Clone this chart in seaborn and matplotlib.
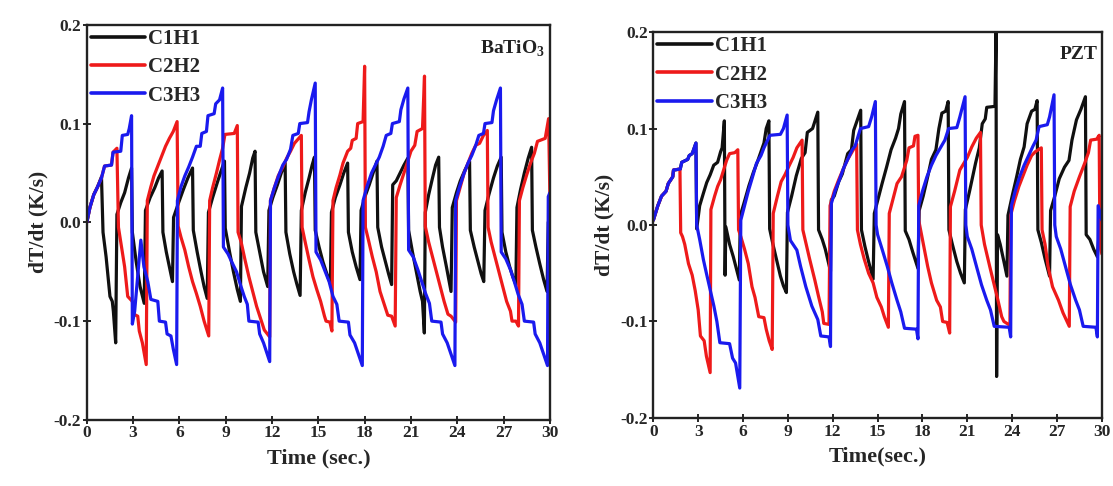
import matplotlib
matplotlib.use("Agg")
import matplotlib.pyplot as plt
import pandas as pd
import seaborn as sns

# ---------------- data ----------------
SERIES = ["C1H1", "C2H2", "C3H3"]
COLORS = {"C1H1": "#101010", "C2H2": "#ee1a1a", "C3H3": "#1a1aee"}
X_TICKS = [0, 3, 6, 9, 12, 15, 18, 21, 24, 27, 30]
Y_TICKS = [-0.2, -0.1, 0.0, 0.1, 0.2]
Y_TICK_LABELS = ["-0.2", "-0.1", "0.0", "0.1", "0.2"]
PANEL_LABELS = ["BaTiO$_{\\mathbf{3}}$", "PZT"]
X_LABELS = ["Time (sec.)", "Time(sec.)"]
Y_LABEL = "dT/dt (K/s)"

# ---- left panel (BaTiO3): (time s, dT/dt K/s)
L_C1H1 = [(0, 0), (0.2, 0.015), (0.45, 0.028), (0.7, 0.036), (0.95, 0.046),
          (1.05, -0.01), (1.25, -0.035), (1.5, -0.075), (1.65, -0.08), (1.72, -0.09), (1.87, -0.122),
          (1.95, 0.008), (2.2, 0.02), (2.45, 0.03), (2.7, 0.045), (2.9, 0.055),
          (2.95, -0.01), (3.2, -0.04), (3.45, -0.065), (3.72, -0.082),
          (3.8, 0.012), (4.1, 0.025), (4.4, 0.035), (4.65, 0.045), (4.88, 0.052),
          (4.93, -0.01), (5.15, -0.03), (5.35, -0.045), (5.55, -0.06),
          (5.62, 0.005), (5.95, 0.02), (6.25, 0.033), (6.55, 0.045), (6.85, 0.055),
          (6.9, -0.008), (7.15, -0.03), (7.4, -0.05), (7.6, -0.065), (7.8, -0.077),
          (7.88, 0.01), (8.15, 0.025), (8.45, 0.04), (8.7, 0.052), (8.92, 0.062),
          (8.97, -0.006), (9.25, -0.03), (9.5, -0.05), (9.75, -0.068), (9.95, -0.08),
          (10.02, 0.016), (10.3, 0.035), (10.55, 0.05), (10.75, 0.065), (10.9, 0.072),
          (10.95, -0.01), (11.2, -0.03), (11.45, -0.05), (11.72, -0.065),
          (11.8, 0.012), (12.05, 0.025), (12.35, 0.038), (12.6, 0.05), (12.85, 0.06),
          (12.9, -0.01), (13.15, -0.032), (13.4, -0.05), (13.6, -0.062), (13.82, -0.074),
          (13.9, 0.012), (14.15, 0.03), (14.4, 0.045), (14.6, 0.058), (14.75, 0.066),
          (14.8, -0.008), (15.05, -0.025), (15.3, -0.04), (15.55, -0.052), (15.78, -0.062),
          (15.85, 0.01), (16.1, 0.025), (16.4, 0.038), (16.65, 0.05), (16.9, 0.06),
          (16.95, -0.01), (17.2, -0.03), (17.45, -0.045), (17.7, -0.058),
          (17.77, 0.012), (18.0, 0.025), (18.3, 0.038), (18.55, 0.05), (18.8, 0.062),
          (18.85, -0.005), (19.1, -0.025), (19.35, -0.04), (19.55, -0.052), (19.75, -0.063),
          (19.82, 0.038), (20.05, 0.042), (20.3, 0.05), (20.55, 0.058), (20.8, 0.065),
          (20.85, -0.008), (21.1, -0.03), (21.35, -0.05), (21.6, -0.07), (21.75, -0.08), (21.87, -0.112),
          (21.93, 0.01), (22.15, 0.028), (22.4, 0.045), (22.6, 0.058), (22.8, 0.066),
          (22.85, -0.005), (23.05, -0.025), (23.3, -0.045), (23.6, -0.07),
          (23.68, 0.015), (23.95, 0.03), (24.2, 0.042), (24.5, 0.053), (24.8, 0.062),
          (24.85, -0.008), (25.1, -0.025), (25.35, -0.04), (25.55, -0.052), (25.72, -0.06),
          (25.8, 0.012), (26.05, 0.028), (26.35, 0.045), (26.6, 0.057), (26.85, 0.066),
          (26.9, -0.01), (27.15, -0.03), (27.4, -0.045), (27.6, -0.055), (27.8, -0.063),
          (27.87, 0.015), (28.1, 0.033), (28.35, 0.05), (28.6, 0.065), (28.82, 0.076),
          (28.87, -0.008), (29.1, -0.025), (29.35, -0.042), (29.6, -0.058), (29.82, -0.07),
          (29.9, 0.0), (30.0, 0.005)]

L_C2H2 = [(0, 0), (0.2, 0.015), (0.45, 0.028), (0.7, 0.036), (0.95, 0.045), (1.15, 0.057),
          (1.6, 0.058), (1.7, 0.071), (1.95, 0.075),
          (2.05, -0.005), (2.2, -0.02), (2.45, -0.045), (2.65, -0.075), (2.95, -0.08), (3.05, -0.093),
          (3.3, -0.095), (3.4, -0.11), (3.6, -0.122), (3.85, -0.144),
          (3.92, 0.022), (4.15, 0.036), (4.35, 0.047), (4.6, 0.057), (4.85, 0.067), (5.1, 0.077),
          (5.35, 0.085), (5.6, 0.092), (5.85, 0.102),
          (5.92, -0.004), (6.1, -0.015), (6.35, -0.028), (6.6, -0.045), (6.85, -0.06), (7.1, -0.072),
          (7.35, -0.085), (7.6, -0.1), (7.9, -0.115),
          (7.96, 0.022), (8.15, 0.035), (8.4, 0.05), (8.6, 0.063), (8.8, 0.075), (8.95, 0.089),
          (9.55, 0.09), (9.75, 0.098),
          (9.8, -0.01), (10.0, -0.02), (10.25, -0.038), (10.5, -0.055), (10.75, -0.07), (11.0, -0.085),
          (11.25, -0.097), (11.5, -0.109), (11.85, -0.116),
          (11.9, 0.022), (12.15, 0.035), (12.4, 0.047), (12.7, 0.056), (12.95, 0.065), (13.2, 0.072),
          (13.45, 0.08), (13.9, 0.088),
          (13.95, -0.005), (14.15, -0.02), (14.4, -0.038), (14.65, -0.055), (14.9, -0.068),
          (15.15, -0.08), (15.4, -0.095), (15.5, -0.1), (15.75, -0.101), (15.88, -0.11),
          (15.95, 0.022), (16.15, 0.035), (16.4, 0.048), (16.6, 0.06), (16.9, 0.072), (17.1, 0.075),
          (17.2, 0.083), (17.45, 0.085), (17.55, 0.1), (17.9, 0.102), (18.0, 0.158),
          (18.05, -0.005), (18.25, -0.018), (18.5, -0.035), (18.75, -0.05), (19.0, -0.07),
          (19.25, -0.082), (19.5, -0.094), (19.75, -0.095), (19.98, -0.105),
          (20.05, 0.025), (20.3, 0.038), (20.55, 0.05), (20.8, 0.062), (21.0, 0.072), (21.25, 0.078),
          (21.4, 0.092), (21.75, 0.095), (21.88, 0.148),
          (21.93, -0.004), (22.15, -0.02), (22.4, -0.035), (22.65, -0.05), (22.9, -0.065),
          (23.15, -0.08), (23.4, -0.093), (23.6, -0.095), (23.9, -0.101),
          (23.95, 0.022), (24.2, 0.036), (24.45, 0.05), (24.7, 0.06), (24.95, 0.07), (25.2, 0.078),
          (25.45, 0.08), (25.7, 0.088), (25.95, 0.093),
          (26.0, -0.005), (26.2, -0.02), (26.45, -0.035), (26.7, -0.05), (26.95, -0.065),
          (27.2, -0.08), (27.45, -0.09), (27.55, -0.1), (27.8, -0.1), (27.97, -0.105),
          (28.03, 0.022), (28.25, 0.035), (28.5, 0.048), (28.75, 0.06), (29.0, 0.07), (29.2, 0.082),
          (29.7, 0.085), (29.92, 0.105), (30.0, 0.03)]

L_C3H3 = [(0, 0), (0.2, 0.015), (0.45, 0.028), (0.7, 0.036), (0.95, 0.045), (1.15, 0.057),
          (1.6, 0.058), (1.7, 0.071), (2.2, 0.072), (2.3, 0.088), (2.65, 0.089), (2.75, 0.095), (2.9, 0.108),
          (2.95, -0.103), (3.1, -0.09), (3.5, -0.018), (3.7, -0.045), (3.95, -0.06), (4.15, -0.078),
          (4.6, -0.08), (4.7, -0.1), (5.1, -0.101), (5.2, -0.113), (5.45, -0.115), (5.6, -0.128), (5.82, -0.144),
          (5.87, 0.022), (6.1, 0.036), (6.35, 0.047), (6.6, 0.056), (6.85, 0.066), (7.1, 0.077),
          (7.35, 0.077), (7.45, 0.09), (7.75, 0.092), (7.85, 0.108), (8.25, 0.11), (8.35, 0.12),
          (8.6, 0.124), (8.8, 0.136),
          (8.85, -0.025), (9.15, -0.032), (9.45, -0.042), (9.7, -0.05), (9.95, -0.063), (10.2, -0.075),
          (10.4, -0.083), (10.5, -0.1), (11.1, -0.101), (11.2, -0.113), (11.45, -0.122), (11.85, -0.141),
          (11.9, 0.022), (12.15, 0.035), (12.45, 0.048), (12.7, 0.058), (12.95, 0.064), (13.2, 0.074),
          (13.35, 0.088), (13.7, 0.09), (13.8, 0.1), (14.3, 0.101), (14.4, 0.112), (14.55, 0.124), (14.8, 0.141),
          (14.85, -0.03), (15.15, -0.038), (15.45, -0.05), (15.7, -0.06), (15.95, -0.075), (16.2, -0.083),
          (16.35, -0.1), (16.95, -0.101), (17.05, -0.114), (17.35, -0.122), (17.85, -0.145),
          (17.9, 0.022), (18.15, 0.036), (18.45, 0.05), (18.7, 0.058), (18.95, 0.066), (19.2, 0.077),
          (19.4, 0.088), (19.7, 0.09), (19.8, 0.1), (20.25, 0.102), (20.35, 0.114), (20.55, 0.125), (20.8, 0.136),
          (20.85, -0.028), (21.15, -0.035), (21.45, -0.048), (21.7, -0.06), (21.95, -0.072), (22.2, -0.082),
          (22.35, -0.1), (22.95, -0.101), (23.05, -0.113), (23.35, -0.122), (23.85, -0.145),
          (23.9, 0.022), (24.15, 0.036), (24.45, 0.05), (24.7, 0.06), (24.95, 0.068), (25.2, 0.078),
          (25.4, 0.088), (25.7, 0.09), (25.8, 0.1), (26.25, 0.101), (26.35, 0.113), (26.55, 0.124), (26.8, 0.136),
          (26.85, -0.03), (27.15, -0.037), (27.45, -0.048), (27.7, -0.06), (27.95, -0.073), (28.2, -0.083),
          (28.35, -0.1), (28.95, -0.101), (29.05, -0.113), (29.35, -0.122), (29.85, -0.145),
          (29.9, 0.026), (30.0, 0.03)]

# ---- right panel (PZT)
R_C1H1 = [(0, 0.005), (0.3, 0.02), (0.55, 0.03), (0.85, 0.035), (1.0, 0.043), (1.3, 0.05), (1.35, 0.057),
          (1.8, 0.058), (1.9, 0.065), (2.3, 0.068), (2.4, 0.072), (2.6, 0.074), (2.85, 0.085),
          (2.9, -0.004), (3.1, 0.02), (3.35, 0.033), (3.57, 0.044), (3.8, 0.052), (4.04, 0.062),
          (4.3, 0.065), (4.5, 0.076), (4.6, 0.08), (4.75, 0.108),
          (4.8, -0.052), (4.85, -0.002), (5.1, -0.02), (5.35, -0.033), (5.55, -0.045), (5.75, -0.057),
          (5.82, 0.01), (6.05, 0.022), (6.4, 0.041), (6.7, 0.055), (6.95, 0.065), (7.2, 0.076),
          (7.4, 0.085), (7.55, 0.1), (7.73, 0.108),
          (7.78, -0.004), (8.0, -0.02), (8.3, -0.04), (8.5, -0.053), (8.7, -0.063), (8.9, -0.07),
          (8.97, 0.013), (9.25, 0.03), (9.56, 0.051), (9.9, 0.069), (10.15, 0.075), (10.3, 0.096),
          (10.65, 0.1), (11.0, 0.117),
          (11.05, -0.005), (11.3, -0.015), (11.5, -0.025), (11.7, -0.038), (11.85, -0.048),
          (11.9, 0.026), (12.1, 0.03), (12.4, 0.045), (12.64, 0.053), (13.0, 0.074), (13.25, 0.078),
          (13.4, 0.098), (13.65, 0.109), (13.87, 0.119),
          (13.92, -0.005), (14.15, -0.022), (14.4, -0.038), (14.7, -0.056),
          (14.78, 0.012), (15.0, 0.025), (15.3, 0.043), (15.6, 0.06), (15.9, 0.078), (16.2, 0.09),
          (16.4, 0.1), (16.55, 0.115), (16.8, 0.128),
          (16.85, -0.006), (17.1, -0.015), (17.35, -0.028), (17.7, -0.045),
          (17.78, 0.015), (18.05, 0.03), (18.35, 0.05), (18.6, 0.068), (18.9, 0.078), (19.1, 0.1),
          (19.3, 0.116), (19.55, 0.118), (19.72, 0.128),
          (19.77, -0.005), (20.0, -0.02), (20.3, -0.038), (20.55, -0.05), (20.8, -0.06),
          (20.87, 0.016), (21.15, 0.035), (21.55, 0.064), (21.8, 0.08), (22.0, 0.105), (22.2, 0.11),
          (22.3, 0.122), (22.85, 0.123),
          (22.92, 0.2), (22.96, -0.157), (23.02, -0.01), (23.2, -0.02), (23.45, -0.038), (23.65, -0.053),
          (23.72, 0.01), (24.0, 0.03), (24.3, 0.05), (24.55, 0.068), (24.8, 0.081), (25.0, 0.105),
          (25.3, 0.118), (25.52, 0.12), (25.67, 0.129),
          (25.72, -0.005), (25.95, -0.018), (26.2, -0.035), (26.5, -0.053),
          (26.57, 0.015), (26.85, 0.03), (27.15, 0.048), (27.5, 0.06), (27.8, 0.067), (28.0, 0.088),
          (28.3, 0.109), (28.6, 0.12), (28.9, 0.133),
          (28.95, -0.01), (29.2, -0.015), (29.45, -0.025), (29.7, -0.033), (29.85, 0.0), (30.0, 0.01)]

R_C2H2 = [(0, 0.005), (0.3, 0.02), (0.55, 0.03), (0.85, 0.035), (1.0, 0.043), (1.3, 0.05), (1.35, 0.057),
          (1.78, 0.058),
          (1.83, -0.008), (1.95, -0.012), (2.1, -0.02), (2.35, -0.04), (2.6, -0.052), (2.8, -0.068),
          (3.0, -0.088), (3.15, -0.115), (3.4, -0.12), (3.55, -0.136), (3.8, -0.153),
          (3.85, 0.016), (4.1, 0.03), (4.3, 0.04), (4.5, 0.047), (4.7, 0.057), (4.9, 0.067), (5.1, 0.074),
          (5.45, 0.075), (5.65, 0.078),
          (5.7, -0.005), (5.85, -0.012), (6.1, -0.025), (6.35, -0.04), (6.6, -0.064), (6.8, -0.075),
          (7.05, -0.095), (7.4, -0.096), (7.55, -0.108), (7.75, -0.12), (7.95, -0.129),
          (8.02, 0.012), (8.3, 0.03), (8.55, 0.045), (8.8, 0.052), (9.1, 0.062), (9.35, 0.07),
          (9.6, 0.08), (9.95, 0.088),
          (10.0, -0.005), (10.15, -0.015), (10.45, -0.035), (10.8, -0.057), (11.05, -0.074),
          (11.3, -0.09), (11.4, -0.102), (11.75, -0.103),
          (11.82, 0.02), (12.1, 0.035), (12.4, 0.047), (12.7, 0.058), (13.0, 0.068), (13.3, 0.076),
          (13.6, 0.084),
          (13.65, -0.005), (13.85, -0.02), (14.1, -0.035), (14.4, -0.05), (14.7, -0.06), (14.95, -0.075),
          (15.25, -0.085), (15.45, -0.095), (15.72, -0.106),
          (15.78, 0.012), (16.0, 0.025), (16.3, 0.043), (16.6, 0.05), (16.95, 0.067), (17.1, 0.08),
          (17.4, 0.082), (17.5, 0.092), (17.7, 0.093),
          (17.75, 0.005), (18.0, -0.015), (18.35, -0.043), (18.6, -0.06), (18.95, -0.078), (19.2, -0.085),
          (19.35, -0.1), (19.65, -0.101), (19.82, -0.112),
          (19.87, 0.019), (20.15, 0.035), (20.5, 0.057), (21.0, 0.07), (21.3, 0.081), (21.6, 0.09),
          (21.88, 0.096),
          (21.93, 0.0), (22.15, -0.02), (22.5, -0.043), (22.8, -0.062), (23.05, -0.078), (23.3, -0.095),
          (23.45, -0.1), (23.85, -0.104),
          (23.9, 0.01), (24.15, 0.025), (24.45, 0.04), (24.75, 0.052), (25.0, 0.062), (25.3, 0.072),
          (25.55, 0.076), (25.95, 0.08),
          (26.0, -0.005), (26.2, -0.02), (26.4, -0.043), (26.7, -0.064), (27.1, -0.078), (27.4, -0.091),
          (27.82, -0.105),
          (27.88, 0.019), (28.15, 0.035), (28.5, 0.05), (28.85, 0.064), (29.1, 0.075), (29.25, 0.088),
          (29.65, 0.089), (29.82, 0.093),
          (29.87, -0.02), (30.0, -0.03)]

R_C3H3 = [(0, 0.005), (0.3, 0.02), (0.55, 0.03), (0.85, 0.035), (1.0, 0.043), (1.3, 0.05), (1.35, 0.057),
          (1.8, 0.058), (1.9, 0.065), (2.3, 0.068), (2.4, 0.072), (2.6, 0.074), (2.85, 0.085),
          (2.9, 0.0), (3.1, -0.015), (3.35, -0.036), (3.55, -0.05), (3.8, -0.067), (4.05, -0.084),
          (4.25, -0.1), (4.45, -0.122), (5.1, -0.123), (5.3, -0.138), (5.5, -0.143), (5.78, -0.169),
          (5.85, 0.005), (6.1, 0.02), (6.35, 0.035), (6.6, 0.048), (6.9, 0.064), (7.2, 0.072), (7.4, 0.08),
          (7.8, 0.093), (8.5, 0.094), (8.7, 0.1), (8.95, 0.114),
          (9.0, 0.0), (9.17, -0.016), (9.6, -0.026), (9.85, -0.043), (10.2, -0.064), (10.6, -0.084),
          (11.0, -0.098), (11.2, -0.115), (11.75, -0.116), (11.85, -0.126),
          (11.9, 0.022), (12.15, 0.035), (12.45, 0.047), (12.7, 0.058), (13.0, 0.068), (13.3, 0.078),
          (13.5, 0.082), (13.85, 0.1), (14.4, 0.102), (14.6, 0.112), (14.85, 0.128),
          (14.9, 0.0), (15.0, -0.01), (15.3, -0.025), (15.65, -0.043), (15.95, -0.06), (16.3, -0.078),
          (16.55, -0.09), (16.8, -0.107), (17.6, -0.108), (17.7, -0.118),
          (17.75, 0.02), (18.0, 0.035), (18.3, 0.05), (18.6, 0.062), (18.9, 0.072), (19.2, 0.08),
          (19.5, 0.088), (19.75, 0.1), (20.3, 0.101), (20.5, 0.112), (20.85, 0.133),
          (20.9, 0.0), (21.0, -0.012), (21.3, -0.025), (21.65, -0.045), (21.95, -0.062), (22.3, -0.078),
          (22.55, -0.088), (22.8, -0.105), (23.8, -0.106), (23.9, -0.116),
          (23.95, 0.02), (24.2, 0.035), (24.5, 0.05), (24.8, 0.062), (25.1, 0.072), (25.4, 0.082),
          (25.6, 0.088), (25.8, 0.102), (26.35, 0.104), (26.5, 0.112), (26.8, 0.135),
          (26.85, 0.0), (26.95, -0.012), (27.25, -0.025), (27.6, -0.045), (27.9, -0.062), (28.25, -0.078),
          (28.5, -0.088), (28.75, -0.105), (29.6, -0.106), (29.7, -0.116),
          (29.75, 0.02), (30.0, 0.005)]


def frame(series_map):
    rows = []
    for name, pts in series_map.items():
        for i, (t, v) in enumerate(pts):
            rows.append({"series": name, "order": i, "t": t, "v": v})
    return pd.DataFrame(rows)


left_df = frame({"C1H1": L_C1H1, "C2H2": L_C2H2, "C3H3": L_C3H3})
right_df = frame({"C1H1": R_C1H1, "C2H2": R_C2H2, "C3H3": R_C3H3})

# ---------------- style ----------------
sns.set_theme(style="ticks")
plt.rcParams["font.family"] = ["Liberation Serif", "DejaVu Serif"]
plt.rcParams["font.weight"] = "bold"
plt.rcParams["mathtext.fontset"] = "custom"
plt.rcParams["mathtext.rm"] = "Liberation Serif:bold"
plt.rcParams["mathtext.bf"] = "Liberation Serif:bold"

fig = plt.figure(figsize=(11.13, 4.86), dpi=100)
axL = fig.add_axes([0.078, 0.136, 0.416, 0.813])
axR = fig.add_axes([0.587, 0.140, 0.403, 0.794])

for ax, df, plabel, xlabel in [(axL, left_df, PANEL_LABELS[0], X_LABELS[0]),
                               (axR, right_df, PANEL_LABELS[1], X_LABELS[1])]:
    sns.lineplot(data=df, x="t", y="v", hue="series", hue_order=SERIES, palette=COLORS,
                 sort=False, estimator=None, linewidth=2.3, ax=ax, legend=False)
    ax.set_xlim(0, 30)
    ax.set_ylim(-0.2, 0.2)
    ax.set_xticks(X_TICKS)
    ax.set_xticklabels([str(x) for x in X_TICKS])
    ax.set_yticks(Y_TICKS)
    ax.set_yticklabels(Y_TICK_LABELS)
    ax.tick_params(axis="both", direction="inout", length=6, width=1.4, labelsize=12.5, pad=1)
    for lab in ax.get_xticklabels() + ax.get_yticklabels():
        lab.set_fontweight("bold")
    for s in ax.spines.values():
        s.set_visible(True)
        s.set_linewidth(1.7)
        s.set_color("#222222")
    ax.set_xlabel(xlabel, fontsize=16, fontweight="bold", labelpad=5)
    ax.set_ylabel(Y_LABEL, fontsize=15.5, fontweight="bold", labelpad=4)
    leg = ax.legend(ax.lines[:3], SERIES, loc="upper left", frameon=False,
                    handlelength=2.6, handletextpad=0.15, labelspacing=0.4,
                    borderaxespad=0.0, borderpad=0.2,
                    prop={"family": "Liberation Serif", "weight": "bold", "size": 15})
    for h in leg.get_lines():
        h.set_linewidth(2.6)
    ax.text(0.99, 0.965, plabel, transform=ax.transAxes, ha="right", va="top",
            fontsize=14, fontweight="bold", color="#222222")

fig.savefig("out.png", dpi=100)
